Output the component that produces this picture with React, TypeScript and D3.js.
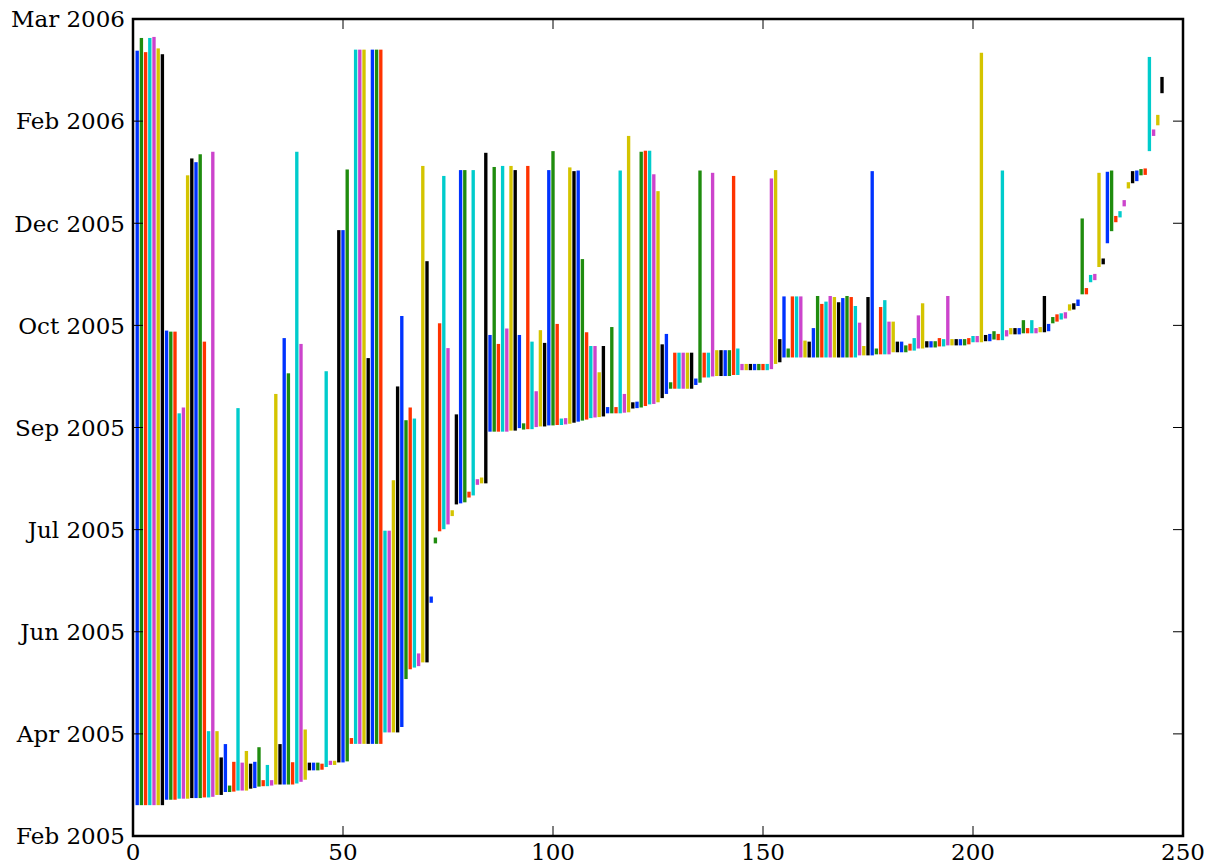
import React from 'react';
import * as d3 from 'd3';

// each bar: start / end, in days after 25 Feb 2005
const starts = [
  14.8, 14.8, 14.8, 14.8, 14.8, 14.8, 14.8, 17.4, 17.4, 17.4,
  17.9, 17.9, 17.9, 18.2, 18.2, 18.2, 18.5, 18.5, 18.8, 19.7,
  19.7, 21.1, 21.1, 21.3, 21.8, 21.8, 21.8, 22.7, 23.0, 23.7,
  23.9, 23.9, 24.2, 24.7, 24.7, 24.7, 24.7, 24.7, 25.2, 26.0,
  27.0, 31.5, 31.5, 31.5, 31.8, 33.1, 34.1, 34.1, 35.3, 35.3,
  35.8, 44.2, 44.2, 44.2, 44.2, 44.2, 44.2, 44.2, 44.2, 49.7,
  49.7, 49.7, 49.7, 52.3, 75.3, 80.0, 80.8, 81.5, 83.3, 83.3,
  111.9, 140.4, 146.2, 147.2, 149.5, 153.5, 159.1, 159.6, 160.1, 162.4,
  163.4, 168.5, 169.2, 169.2, 194.0, 194.0, 194.0, 194.0, 194.0, 194.5,
  194.5, 195.7, 195.0, 195.2, 195.2, 196.2, 196.5, 196.5, 197.0, 197.0,
  197.2, 197.2, 197.5, 197.8, 198.3, 198.8, 199.3, 199.8, 200.5, 200.8,
  201.0, 201.3, 202.8, 202.8, 202.8, 202.8, 203.1, 203.3, 205.1, 205.3,
  205.6, 206.3, 207.1, 207.3, 208.1, 210.1, 212.1, 214.6, 214.6, 214.6,
  214.6, 214.6, 214.6, 216.4, 217.5, 220.0, 220.0, 220.5, 220.7, 220.7,
  220.7, 220.7, 221.2, 221.2, 223.5, 223.5, 223.5, 223.5, 223.5, 223.5,
  223.5, 224.0, 226.5, 227.3, 229.6, 229.6, 229.6, 229.6, 229.6, 229.6,
  229.6, 229.6, 229.6, 229.6, 229.6, 229.6, 229.6, 229.6, 229.6, 229.6,
  229.6, 229.6, 230.6, 230.6, 230.6, 230.6, 231.1, 231.1, 231.1, 231.1,
  232.1, 232.1, 232.1, 232.1, 232.9, 232.9, 233.9, 233.9, 234.4, 234.4,
  234.4, 234.9, 234.9, 235.4, 235.4, 235.4, 235.4, 235.4, 235.9, 236.9,
  236.9, 236.9, 237.4, 237.4, 238.2, 237.9, 237.9, 239.7, 240.7, 240.7,
  240.7, 241.2, 241.2, 241.2, 241.2, 241.7, 241.7, 242.2, 246.0, 246.8,
  247.8, 248.3, 252.1, 252.6, 254.3, 259.9, 259.9, 265.7, 266.7, 273.0,
  274.3, 284.4, 290.2, 294.5, 296.8, 302.1, 310.7, 313.2, 314.2, 317.0,
  317.2, 328.6, 335.9, 341.0, 356.4,
];

const ends = [
  376.8, 382.9, 376.1, 382.9, 383.4, 377.9, 375.1, 242.5, 242.0, 242.0,
  202.8, 205.6, 317.0, 325.1, 323.3, 327.1, 237.2, 50.3, 328.3, 50.3,
  37.7, 44.1, 24.2, 35.6, 205.3, 35.2, 40.8, 34.7, 35.6, 42.6,
  26.8, 34.1, 26.8, 212.1, 44.1, 238.9, 222.0, 35.4, 328.3, 236.1,
  51.1, 35.2, 35.2, 35.2, 34.7, 223.0, 36.1, 36.1, 290.7, 290.7,
  319.8, 47.0, 377.3, 377.3, 377.3, 229.3, 377.3, 377.3, 377.3, 146.5,
  146.5, 170.7, 215.7, 249.5, 199.5, 205.6, 200.3, 87.6, 321.5, 275.8,
  114.9, 143.2, 246.0, 316.7, 234.1, 156.3, 202.3, 319.5, 319.5, 165.2,
  319.5, 171.2, 172.0, 327.8, 240.4, 321.0, 236.1, 321.5, 243.5, 321.5,
  319.5, 240.4, 198.0, 321.5, 237.2, 213.4, 242.7, 236.6, 319.5, 328.6,
  245.7, 200.3, 200.5, 320.8, 319.0, 319.3, 276.8, 241.7, 235.1, 235.1,
  222.5, 235.1, 205.8, 244.2, 205.8, 319.3, 212.1, 335.9, 208.1, 208.4,
  328.3, 328.8, 328.8, 317.5, 309.4, 235.9, 240.9, 217.7, 231.9, 231.9,
  231.9, 231.9, 231.9, 219.5, 319.3, 231.9, 231.9, 318.2, 233.1, 233.1,
  233.1, 233.1, 316.7, 233.9, 226.5, 226.5, 226.5, 226.5, 226.5, 226.5,
  226.5, 315.5, 319.5, 238.4, 258.9, 233.9, 258.9, 258.9, 258.9, 237.7,
  237.2, 243.7, 259.1, 255.3, 256.4, 259.1, 258.6, 256.1, 258.1, 259.1,
  258.6, 254.3, 246.3, 235.1, 258.6, 319.0, 233.9, 253.8, 257.1, 246.8,
  246.8, 237.2, 237.2, 235.4, 236.2, 238.9, 249.8, 255.6, 237.4, 237.4,
  237.4, 238.9, 238.4, 259.1, 238.4, 238.4, 238.4, 238.4, 238.9, 239.9,
  239.9, 375.8, 240.4, 240.9, 242.2, 240.9, 319.3, 242.7, 243.7, 243.7,
  243.7, 247.5, 243.7, 247.5, 243.7, 244.2, 259.1, 245.7, 249.0, 250.3,
  250.8, 251.3, 255.1, 255.6, 257.4, 296.3, 262.9, 269.2, 269.7, 318.2,
  277.1, 318.7, 319.3, 297.5, 299.8, 305.1, 313.7, 319.0, 319.3, 320.0,
  320.3, 373.8, 339.0, 346.0, 364.2,
];

const yTickLabels = [
  'Feb 2005', 'Apr 2005', 'Jun 2005', 'Jul 2005', 'Sep 2005',
  'Oct 2005', 'Dec 2005', 'Feb 2006', 'Mar 2006',
];
const yTickStep = 49;
const xTicks = [0, 50, 100, 150, 200, 250];

const colors = ['#0033ff', '#1f8c0e', '#ff3300', '#00cccc', '#cc44cc', '#d4c400', '#000000'];

const W = 1208;
const H = 863;
const margin = { top: 19, right: 25, bottom: 27, left: 133 };
const tickLen = 10;
const font = '"DejaVu Serif", serif';
const fontSize = 23;

export default function App() {
  const x = d3.scaleLinear().domain([0, 250]).range([margin.left, W - margin.right]);
  const y = d3.scaleLinear()
    .domain([0, yTickStep * (yTickLabels.length - 1)])
    .range([H - margin.bottom, margin.top]);

  const barW = x(0.8) - x(0);
  const x0 = margin.left, x1 = W - margin.right;
  const y0 = H - margin.bottom, y1 = margin.top;

  return (
    <div style={{ position: 'absolute', left: 0, top: 0 }}>
      <svg width={W} height={H} style={{ display: 'block', background: '#fff' }}>
        <g>
          {starts.map((s, i) => (
            <rect key={i}
              x={x(i + 1) - barW / 2}
              y={y(ends[i])}
              width={barW}
              height={y(s) - y(ends[i])}
              fill={colors[i % colors.length]} />
          ))}
        </g>

        {/* y ticks, both sides, pointing in */}
        {yTickLabels.map((lab, i) => {
          const yy = y(i * yTickStep);
          return (
            <g key={lab}>
              <line x1={x0} x2={x0 + tickLen} y1={yy} y2={yy} stroke="#000" strokeWidth={1} />
              <line x1={x1} x2={x1 - tickLen} y1={yy} y2={yy} stroke="#000" strokeWidth={1} />
              <text x={x0 - 8} y={yy} dy="0.36em" textAnchor="end"
                fontFamily={font} fontSize={fontSize}>{lab}</text>
            </g>
          );
        })}

        {/* x ticks */}
        {xTicks.map(t => {
          const xx = x(t);
          return (
            <g key={t}>
              <line x1={xx} x2={xx} y1={y0} y2={y0 - tickLen} stroke="#000" strokeWidth={1} />
              <line x1={xx} x2={xx} y1={y1} y2={y1 + tickLen} stroke="#000" strokeWidth={1} />
              <text x={xx} y={y0 + 24} textAnchor="middle"
                fontFamily={font} fontSize={fontSize}>{t}</text>
            </g>
          );
        })}

        <rect x={x0} y={y1} width={x1 - x0} height={y0 - y1}
          fill="none" stroke="#000" strokeWidth={2.5} />
      </svg>
    </div>
  );
}
